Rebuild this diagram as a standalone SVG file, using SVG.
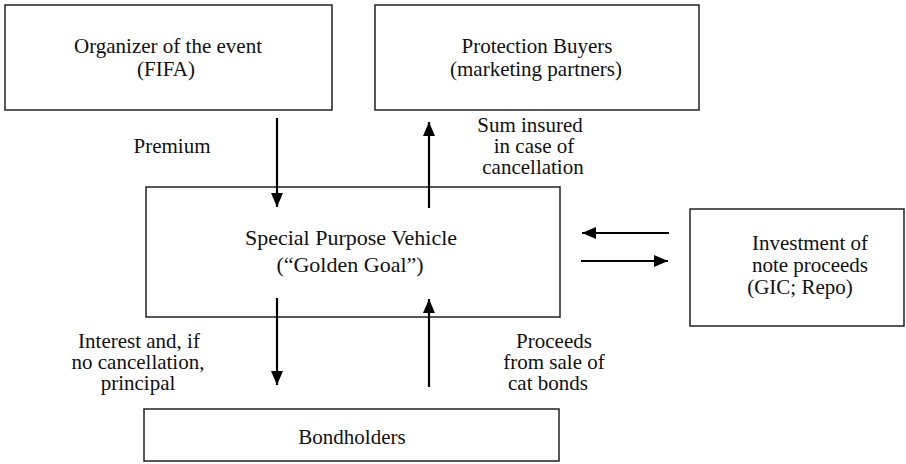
<svg xmlns="http://www.w3.org/2000/svg" width="906" height="464" viewBox="0 0 906 464">
<style>
.box{fill:#fff;stroke:#222;stroke-width:1.5}
text{font-family:"Liberation Serif","Times New Roman",serif;font-size:21px;fill:#111;text-anchor:middle}
.conn line{stroke:#000;stroke-width:2.2}
</style>
<defs>
<marker id="ah" viewBox="0 0 14 12" refX="14" refY="6" markerWidth="14" markerHeight="12" markerUnits="userSpaceOnUse" orient="auto">
<path d="M0,0 L14,6 L0,12 Z" fill="#000"/>
</marker>
</defs>
<rect width="906" height="464" fill="#fff"/>
<g id="organizer">
<rect class="box" x="5" y="5" width="327" height="105"/>
<text x="168" y="53">Organizer of the event</text>
<text x="166" y="76">(FIFA)</text>
</g>
<g id="buyers">
<rect class="box" x="375" y="5" width="324" height="105"/>
<text x="537" y="53">Protection Buyers</text>
<text x="536" y="76">(marketing partners)</text>
</g>
<g id="spv">
<rect class="box" x="146" y="187" width="414" height="130"/>
<text x="351" y="245" style="font-size:22px">Special Purpose Vehicle</text>
<text x="350" y="272" style="font-size:22px">(“Golden Goal”)</text>
</g>
<g id="investment">
<rect class="box" x="690" y="209" width="214" height="117"/>
<text x="810" y="250">Investment of</text>
<text x="810" y="272">note proceeds</text>
<text x="800" y="294">(GIC; Repo)</text>
</g>
<g id="bondholders">
<rect class="box" x="144" y="409" width="415" height="52"/>
<text x="352" y="444">Bondholders</text>
</g>
<g id="connectors" class="conn">
<line x1="277" y1="118" x2="277" y2="207" marker-end="url(#ah)"/>
<line x1="429" y1="208" x2="429" y2="122" marker-end="url(#ah)"/>
<line x1="277" y1="298" x2="277" y2="385" marker-end="url(#ah)"/>
<line x1="429" y1="387" x2="429" y2="299" marker-end="url(#ah)"/>
<line x1="669" y1="233" x2="582" y2="233" marker-end="url(#ah)"/>
<line x1="581" y1="261" x2="668" y2="261" marker-end="url(#ah)"/>
</g>
<g id="labels">
<text x="172" y="153">Premium</text>
<text x="530" y="132">Sum insured</text>
<text x="534" y="153">in case of</text>
<text x="533" y="174">cancellation</text>
<text x="139" y="348">Interest and, if</text>
<text x="138" y="369">no cancellation,</text>
<text x="138" y="390">principal</text>
<text x="554" y="348">Proceeds</text>
<text x="554" y="369">from sale of</text>
<text x="548" y="390">cat bonds</text>
</g>
</svg>
